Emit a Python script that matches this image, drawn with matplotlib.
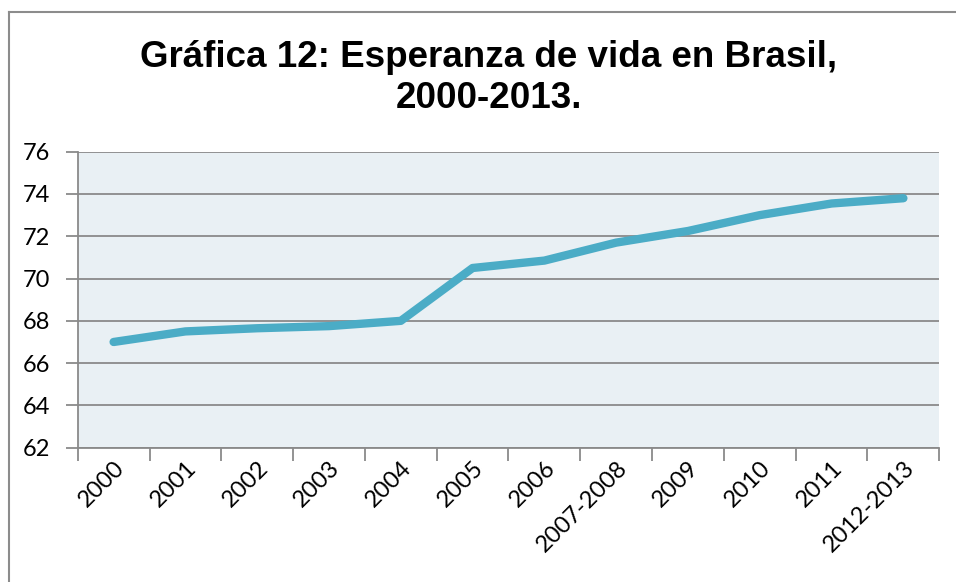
import matplotlib.pyplot as plt
from matplotlib.lines import Line2D

# Datos
periodos = ["2000", "2001", "2002", "2003", "2004", "2005", "2006",
            "2007-2008", "2009", "2010", "2011", "2012-2013"]
esperanza = [67.0, 67.5, 67.65, 67.75, 68.0, 70.5, 70.85, 71.7, 72.25, 73.0, 73.55, 73.8]
y_ticks = [62, 64, 66, 68, 70, 72, 74, 76]

W, H = 956, 582
fig = plt.figure(figsize=(W / 100, H / 100), dpi=100)
ax = fig.add_axes([77.7 / W, 1 - 447.7 / H, (939.3 - 77.7) / W, (447.7 - 151.7) / H])

# marco exterior (solo izquierda y arriba visibles)
fig.add_artist(Line2D([8.5 / W, 8.5 / W], [0, 1 - 12 / H], transform=fig.transFigure,
                      color="#8c8c8c", lw=1.5))
fig.add_artist(Line2D([8.5 / W, 1], [1 - 12 / H, 1 - 12 / H], transform=fig.transFigure,
                      color="#8c8c8c", lw=1.5))

x = list(range(len(periodos)))
ax.set_facecolor("#e9f0f4")
ax.plot(x, esperanza, color="#4bacc6", lw=6, solid_capstyle="round",
        solid_joinstyle="round", zorder=3)

ax.set_xlim(-0.5, len(periodos) - 0.5)
ax.set_ylim(62, 76)
ax.set_yticks(y_ticks)
ax.set_yticklabels([str(v) for v in y_ticks], fontsize=17, family="Lato")
ax.grid(axis="y", color="#8a8a8a", lw=1.3)
ax.set_axisbelow(True)

ax.set_xticks(x)
ax.set_xticklabels(periodos, rotation=45, ha="right", va="top",
                   rotation_mode="anchor", fontsize=17, family="Lato")
ax.tick_params(axis="x", which="major", length=0, pad=7)
ax.set_xticks([i - 0.5 for i in range(len(periodos) + 1)], minor=True)
ax.tick_params(axis="x", which="minor", length=9, width=1.3, color="#8a8a8a")
ax.tick_params(axis="y", length=9, width=1.3, color="#8a8a8a", pad=11)

for s in ["top", "right"]:
    ax.spines[s].set_visible(False)
for s in ["left", "bottom"]:
    ax.spines[s].set_color("#8a8a8a")
    ax.spines[s].set_linewidth(1.3)

fig.text(489 / W, 1 - 78 / H, "Gráfica 12: Esperanza de vida en Brasil,\n2000-2013.",
         ha="center", va="center", fontsize=26.5, fontweight="bold",
         family="Liberation Sans", linespacing=1.2)

fig.savefig("out.png", dpi=100)
